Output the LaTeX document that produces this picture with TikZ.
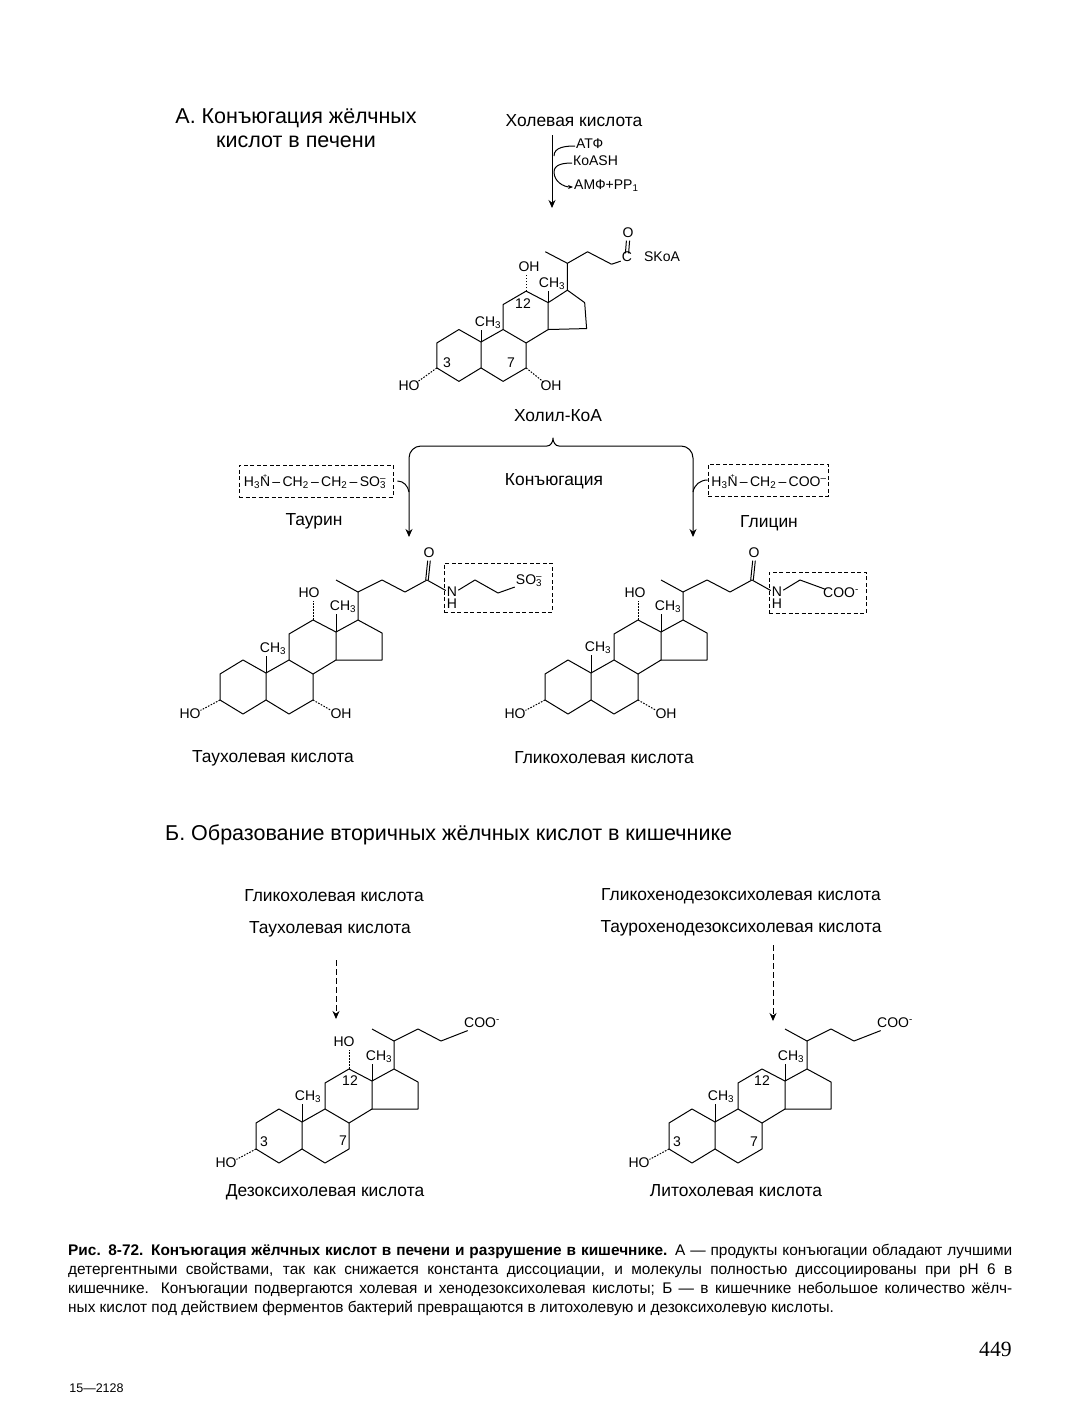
\documentclass[tikz,border=0pt]{standalone}
\usepackage{fontspec}
\setmainfont{Liberation Sans}
\newfontfamily\pagefont{Liberation Serif}
\usetikzlibrary{arrows.meta}
\tikzset{>={Stealth[length=8pt,width=7pt]}}
\tikzset{bond/.style={line width=1pt, line join=round}}
\tikzset{hash/.style={line width=1pt, dash pattern=on 1.6pt off 1.4pt}}
\tikzset{chem/.style={font=\fontsize{14}{14}\selectfont, inner sep=1pt, text height=.72em, text depth=.16em, yshift=-2pt}}
\tikzset{molname/.style={font=\fontsize{17.4}{17.4}\selectfont, inner sep=0pt, text height=.72em, text depth=.2em, yshift=-3.5pt}}
\tikzset{dashbox/.style={draw, line width=0.8pt, dash pattern=on 4pt off 2.5pt, inner sep=0pt}}
\newcommand{\sothree}{SO\rlap{\textsubscript{3}}\textsuperscript{--}}
\newcommand{\nplus}{\rlap{\hspace{3pt}\raisebox{8pt}{\scriptsize +}}N}
\newcommand{\steroidatoms}[1]{%
  \foreach \n/\x/\y in {3/-46/27, 2/-46/1, 1/-23/-13, 10/0/0, 5/0/27, 4/-23/41, 6/23/41,
      7/47/27, 8/47/1, 9/23/-13, 11/23/-39, 12/47/-53, 13/70/-41, 14/70/-13, 15/116/-13,
      16/116/-40, 17/92/-53, 20/92/-81, 21/70/-93, 22/116/-93, 23/139/-81, 24/161/-93}
    \coordinate (#1\n) at (\x,\y);
}
\newcommand{\steroidbonds}[1]{%
  \draw [bond] (#13) -- (#12) -- (#11) -- (#110) -- (#15) -- (#14) -- cycle;
  \draw [bond] (#110) -- (#19) -- (#18) -- (#17) -- (#16) -- (#15);
  \draw [bond] (#19) -- (#111) -- (#112) -- (#113) -- (#114) -- (#18);
  \draw [bond] (#114) -- (#115) -- (#116) -- (#117) -- (#113);
  \draw [bond] (#117) -- (#120) -- (#121);
  \draw [bond] (#120) -- (#122) -- (#123);
}
\begin{document}
\begin{tikzpicture}[x=1pt, y=-1pt]
    \useasboundingbox (0,0) rectangle (1077,1416);
    % headings
    \node [font=\fontsize{21.5}{24}\selectfont, align=center, inner sep=0pt] (headA) at (296,128) {А. Конъюгация жёлчных\\кислот в печени};
    \node [font=\fontsize{21.5}{24}\selectfont, anchor=west, inner sep=0pt] (headB) at (165,835) {Б. Образование вторичных жёлчных кислот в кишечнике};

    % activation
    \node [molname] (cholic) at (574,120) {Холевая кислота};
    \node [chem, anchor=west] (atf) at (575,144) {АТФ};
    \node [chem, anchor=west] (koash) at (572,161) {КоASH};
    \node [chem, anchor=west] (amf) at (573,185) {АМФ+PP\textsubscript{1}};
    \coordinate (cholicTop) at (552,135);
    \coordinate (cholicEnd) at (552,208);
    \coordinate (atfEnd) at (554,156);
    \coordinate (koashMid) at (554,172);
    \draw [bond, ->] (cholicTop) -- (cholicEnd);
    \draw [bond] (atf.west) to [out=180, in=90] (atfEnd);
    \draw [bond, -{Stealth[length=5pt,width=4pt]}] (koash.west) to [out=180, in=90] (koashMid) to [out=-90, in=180] (amf.west);

    % cholyl-CoA
    \begin{scope}[shift={(481,342)}, scale=.96]
        \steroidatoms{a}
        \coordinate (a15) at (110,-14);
        \coordinate (a16) at (108,-41);
        \coordinate (a17) at (90,-54);
        \coordinate (a20) at (90,-82);
        \coordinate (a21) at (67,-94);
        \coordinate (a22) at (111,-94);
        \coordinate (a23) at (136,-81);
        \steroidbonds{a}
    \end{scope}
    \node [chem] (aCH19) at (488,322) {CH\textsubscript{3}};
    \node [chem] (aCH18) at (552,283) {CH\textsubscript{3}};
    \node [chem] (aOH12) at (529,267) {OH};
    \node [chem] (aHO3) at (409,386) {HO};
    \node [chem] (aOH7) at (551,386) {OH};
    \node [chem] (aThree) at (447,363) {3};
    \node [chem] (aSeven) at (511,363) {7};
    \node [chem] (aTwelve) at (523,304) {12};
    \node [chem] (aC) at (627,257) {C};
    \node [chem] (aO) at (628,233) {O};
    \node [chem] (aSKoA) at (662,257) {SKoA};
    \draw [bond] (a10) -- (a10 |- aCH19.south);
    \draw [bond] (a13) -- (a13 |- aCH18.south);
    \draw [hash] (a12) -- (a12 |- aOH12.south);
    \draw [hash] (a3) -- (aHO3);
    \draw [hash] (a7) -- (aOH7);
    \draw [bond] (a23) -- (aC);
    \draw [bond] ([xshift=-1.6pt]aO.south) -- ([xshift=-1.6pt]aC.north);
    \draw [bond] ([xshift=1.6pt]aO.south) -- ([xshift=1.6pt]aC.north);
    \node [molname] (cholyl) at (558,415) {Холил-КоА};

    % conjugation brace
    \node [molname] (conj) at (554,479) {Конъюгация};
    \coordinate (braceL) at (409,537);
    \coordinate (braceR) at (693,537);
    \coordinate (braceTip) at (553,438);
    \draw [bond, <->] (braceL) -- (409,458) to [out=90, in=180] (421,446) -- (547,446)
        to [out=0, in=-90] (braceTip) to [out=-90, in=180] (559,446) -- (681,446)
        to [out=0, in=90] (693,458) -- (braceR);
    \node [dashbox, minimum width=154pt, minimum height=32pt] (taurine) at (316,481) {};
    \node [dashbox, minimum width=120pt, minimum height=32pt] (glycine) at (768,480) {};
    \node [chem] (taurineText) at (315,482)
        {H\textsubscript{3}\nplus\,--\,CH\textsubscript{2}\,--\,CH\textsubscript{2}\,--\,\sothree};
    \node [chem] (glycineText) at (769,482)
        {H\textsubscript{3}\nplus\,--\,CH\textsubscript{2}\,--\,COO\textsuperscript{--}};
    \node [molname] (taurineName) at (314,519) {Таурин};
    \node [molname] (glycineName) at (769,521) {Глицин};
    \coordinate (taurineIn) at (409,492);
    \coordinate (glycineIn) at (693,492);
    \draw [bond] ([xshift=4pt]taurine.east) to [out=0, in=100] (taurineIn);
    \draw [bond] (glycine.west) to [out=180, in=80] (glycineIn);

    % taurocholic acid
    \begin{scope}[shift={(266,673)}]
        \steroidatoms{b}
        \steroidbonds{b}
    \end{scope}
    \node [chem] (bCH19) at (273,648) {CH\textsubscript{3}};
    \node [chem] (bCH18) at (343,606) {CH\textsubscript{3}};
    \node [chem] (bHO12) at (309,593) {HO};
    \node [chem] (bHO3) at (190,714) {HO};
    \node [chem] (bOH7) at (341,714) {OH};
    \node [chem] (bO) at (429,553) {O};
    \node [chem] (bN) at (452,592) {N};
    \node [chem] (bH) at (452,604) {H};
    \node [chem] (bSO) at (529,580) {\sothree};
    \coordinate (bT1) at (475,580);
    \coordinate (bT2) at (498,593);
    \draw [bond] (b10) -- (b10 |- bCH19.south);
    \draw [bond] (b13) -- (b13 |- bCH18.south);
    \draw [hash] (b12) -- (b12 |- bHO12.south);
    \draw [hash] (b3) -- (bHO3);
    \draw [hash] (b7) -- (bOH7);
    \draw [bond] (b23) -- (b24) -- (bN) -- (bT1) -- (bT2) -- (bSO);
    \draw [bond] ([xshift=-1.3pt]b24) -- ([xshift=-1.3pt]bO.south);
    \draw [bond] ([xshift=1.3pt]b24) -- ([xshift=1.3pt]bO.south);
    \node [dashbox, minimum width=108pt, minimum height=49pt] (bBox) at (498,587.5) {};
    \node [molname] (bName) at (273,756) {Таухолевая кислота};

    % glycocholic acid
    \begin{scope}[shift={(591,673)}]
        \steroidatoms{c}
        \steroidbonds{c}
    \end{scope}
    \node [chem] (cCH19) at (598,647) {CH\textsubscript{3}};
    \node [chem] (cCH18) at (668,606) {CH\textsubscript{3}};
    \node [chem] (cHO12) at (635,593) {HO};
    \node [chem] (cHO3) at (515,714) {HO};
    \node [chem] (cOH7) at (666,714) {OH};
    \node [chem] (cO) at (754,553) {O};
    \node [chem] (cN) at (777,592) {N};
    \node [chem] (cH) at (777,604) {H};
    \node [chem] (cCOO) at (841,593) {COO\textsuperscript{-}};
    \coordinate (cT1) at (800,580);
    \draw [bond] (c10) -- (c10 |- cCH19.south);
    \draw [bond] (c13) -- (c13 |- cCH18.south);
    \draw [hash] (c12) -- (c12 |- cHO12.south);
    \draw [hash] (c3) -- (cHO3);
    \draw [hash] (c7) -- (cOH7);
    \draw [bond] (c23) -- (c24) -- (cN) -- (cT1) -- (cCOO);
    \draw [bond] ([xshift=-1.3pt]c24) -- ([xshift=-1.3pt]cO.south);
    \draw [bond] ([xshift=1.3pt]c24) -- ([xshift=1.3pt]cO.south);
    \node [dashbox, minimum width=97pt, minimum height=41pt] (cBox) at (817.5,592.5) {};
    \node [molname] (cName) at (604,757) {Гликохолевая кислота};

    % secondary acids
    \node [molname] (glyco) at (334,895) {Гликохолевая кислота};
    \node [molname] (tauro) at (330,927) {Таухолевая кислота};
    \node [molname] (glycoCheno) at (741,894) {Гликохенодезоксихолевая кислота};
    \node [molname] (tauroCheno) at (741,926) {Таурохенодезоксихолевая кислота};
    \coordinate (leftTop) at (336,960);
    \coordinate (leftEnd) at (336,1019);
    \coordinate (rightTop) at (773,945);
    \coordinate (rightEnd) at (773,1021);
    \draw [bond, dash pattern=on 6pt off 3pt, ->] (leftTop) -- (leftEnd);
    \draw [bond, dash pattern=on 6pt off 3pt, ->] (rightTop) -- (rightEnd);

    % deoxycholic acid
    \begin{scope}[shift={(302,1122)}]
        \steroidatoms{d}
        \steroidbonds{d}
    \end{scope}
    \node [chem] (dCH19) at (308,1096) {CH\textsubscript{3}};
    \node [chem] (dCH18) at (379,1056) {CH\textsubscript{3}};
    \node [chem] (dHO12) at (344,1042) {HO};
    \node [chem] (dHO3) at (226,1163) {HO};
    \node [chem] (dThree) at (264,1142) {3};
    \node [chem] (dSeven) at (343,1141) {7};
    \node [chem] (dTwelve) at (350,1081) {12};
    \node [chem] (dCOO) at (482,1023) {COO\textsuperscript{-}};
    \draw [bond] (d10) -- (d10 |- dCH19.south);
    \draw [bond] (d13) -- (d13 |- dCH18.south);
    \draw [hash] (d12) -- (d12 |- dHO12.south);
    \draw [hash] (d3) -- (dHO3);
    \draw [bond] (d23) -- (dCOO);
    \node [molname] (dName) at (325,1190) {Дезоксихолевая кислота};

    % lithocholic acid
    \begin{scope}[shift={(715,1122)}]
        \steroidatoms{e}
        \steroidbonds{e}
    \end{scope}
    \node [chem] (eCH19) at (721,1096) {CH\textsubscript{3}};
    \node [chem] (eCH18) at (791,1056) {CH\textsubscript{3}};
    \node [chem] (eHO3) at (639,1163) {HO};
    \node [chem] (eThree) at (677,1142) {3};
    \node [chem] (eSeven) at (754,1142) {7};
    \node [chem] (eTwelve) at (762,1081) {12};
    \node [chem] (eCOO) at (895,1023) {COO\textsuperscript{-}};
    \draw [bond] (e10) -- (e10 |- eCH19.south);
    \draw [bond] (e13) -- (e13 |- eCH18.south);
    \draw [hash] (e3) -- (eHO3);
    \draw [bond] (e23) -- (eCOO);
    \node [molname] (eName) at (736,1190) {Литохолевая кислота};

    % caption and page furniture
    \node [anchor=north west, inner sep=0pt, text width=944pt, align=justify,
        font=\fontsize{15.4}{19.2}\selectfont] (caption) at (68,1243.5)
        {{\bfseries Рис. 8-72. Конъюгация жёлчных кислот в печени и разрушение в кишечнике.} А — продукты конъюгации обладают лучшими\linebreak
        детергентными свойствами, так как снижается константа диссоциации, и молекулы полностью диссоциированы при pH 6 в\linebreak
        кишечнике. Конъюгации подвергаются холевая и хенодезоксихолевая кислоты; Б — в кишечнике небольшое количество жёлч-\linebreak
        ных кислот под действием ферментов бактерий превращаются в литохолевую и дезоксихолевую кислоты.};
    \node [font=\pagefont\fontsize{21.7}{22}\selectfont, inner sep=0pt] (pageNo) at (995.5,1349.5) {449};
    \node [font=\fontsize{12.5}{13}\selectfont, inner sep=0pt] (sigNo) at (96.5,1388.5) {15—2128};
\end{tikzpicture}
\end{document}
